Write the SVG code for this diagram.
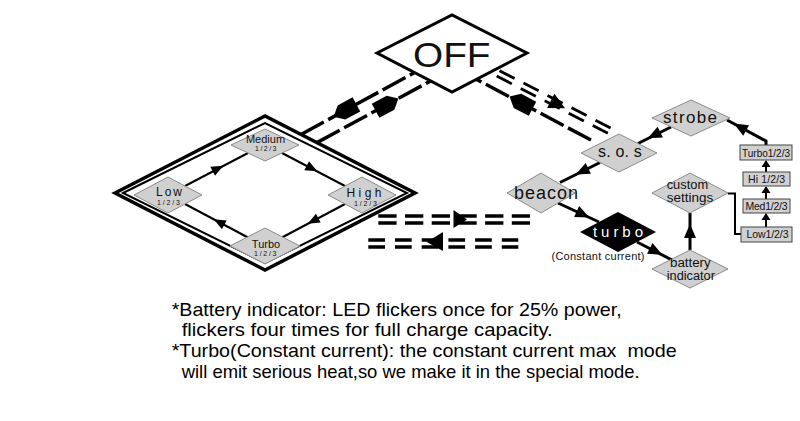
<svg xmlns="http://www.w3.org/2000/svg" xmlns:xlink="http://www.w3.org/1999/xlink" width="800" height="421" viewBox="0 0 800 421">
<style>
  .gd { fill:#d0d0d0; stroke:#8a8a8a; stroke-width:1; }
  .box { fill:#d0d0d0; stroke:#444; stroke-width:1; }
  .t { font-family:"Liberation Sans", Arial, sans-serif; fill:#111; }
  .ln { fill:none; stroke:#000; stroke-width:3; }
  .thin { fill:none; stroke:#000; stroke-width:2; }
  .dash { fill:none; stroke:#000; stroke-width:3.5; stroke-dasharray:26 5; }
  .dd { fill:none; stroke:#000; stroke-width:2.8; stroke-dasharray:17 10; }
  .note { font-family:"Liberation Sans", Arial, sans-serif; font-size:18.5px; fill:#000; }
</style>
<defs>
  <path id="ah" d="M7,0 L-7,-6 L-7,6 Z" fill="#000"/>
  <path id="ahs" d="M6,0 L-6,-5 L-6,5 Z" fill="#000"/>
  <path id="ahb" d="M9,0 L-7,-8 L-7,8 Z" fill="#000"/>
  <path id="pent" d="M-13,-8 L4,-8 L13,0 L4,8 L-13,8 Z" fill="#000"/>
</defs>
<rect width="800" height="421" fill="#fff"/>

<g id="connectors">
  <!-- OFF to mode group -->
  <path class="dash" d="M301,134.5 L414.6,72.5"/>
  <path class="dash" d="M316.9,142.6 L430.7,80.9"/>
  <use href="#pent" transform="translate(345,110.6) rotate(151.4)"/>
  <use href="#pent" transform="translate(387,104.6) rotate(-28.5)"/>
  <!-- OFF to special modes -->
  <path class="dash" d="M591,140 L476.6,79.4"/>
  <use href="#pent" transform="translate(521,102.7) rotate(-152.1)"/>
  <path class="dd" d="M499.5,70.7 L610.7,128"/>
  <path class="dd" d="M496.7,76.1 L607.9,133.3"/>
  <use href="#ahb" transform="translate(557,104) rotate(27.3)"/>
  <!-- middle double dashes -->
  <path d="M378.3,216 H530 M378.3,223 H530" fill="none" stroke="#000" stroke-width="3.3" stroke-dasharray="18.3 8.4"/>
  <path d="M453.5,210 L467,219.5 L453.5,228 Z" fill="#000"/>
  <path d="M368.3,240 H518.3 M368.3,247 H518.3" fill="none" stroke="#000" stroke-width="3.3" stroke-dasharray="16.7 10"/>
  <path d="M443,232 L426.7,242 L443,251 Z" fill="#000"/>
  <!-- inner mode cycle -->
  <path class="thin" d="M185,186 L248,153"/>
  <path class="thin" d="M282,153 L345,186"/>
  <path class="thin" d="M345,204 L282,237.5"/>
  <path class="thin" d="M248,237.5 L185,204"/>
  <use href="#ahs" transform="translate(218,168.5) rotate(-27.6)"/>
  <use href="#ahs" transform="translate(312,168.5) rotate(27.6)"/>
  <use href="#ahs" transform="translate(313,221) rotate(152)"/>
  <use href="#ahs" transform="translate(219,222) rotate(-152)"/>
  <!-- special mode chain -->
  <path class="ln" d="M671,127 L638,143.5"/>
  <use href="#ah" transform="translate(654,135.2) rotate(153.4)"/>
  <path class="ln" d="M600,162.5 L560,182.5"/>
  <use href="#ah" transform="translate(582,171.5) rotate(154)"/>
  <path class="ln" d="M558,203 L599,222"/>
  <use href="#ah" transform="translate(583,214.5) rotate(24.9)"/>
  <path class="ln" d="M637,242 L671,259.5"/>
  <use href="#ah" transform="translate(656,251.5) rotate(27.2)"/>
  <path class="ln" d="M690,250 L690,213"/>
  <use href="#ah" transform="translate(690,231) rotate(-90)"/>
  <path class="ln" d="M766,145 L766,141 L727,120"/>
  <use href="#ah" transform="translate(740,127) rotate(-151)"/>
  <path class="thin" d="M728,193.5 L735,193.5 L735,234 L741,234"/>
  <path class="thin" d="M766,227 V214 M766,199 V187 M766,172 V161"/>
  <path d="M766,213 L761.5,220 L770.5,220 Z M766,186 L761.5,193 L770.5,193 Z M766,160 L761.5,167 L770.5,167 Z" fill="#000"/>
</g>

<g id="node-off">
  <path d="M377,53 L452,15 L527,53 L452,92 Z" fill="#fff" stroke="#000" stroke-width="3"/>
  <text class="t" x="413" y="66.7" font-size="35" textLength="77.5" lengthAdjust="spacingAndGlyphs" fill="#000">OFF</text>
</g>

<g id="node-mode-group">
  <path d="M115,193 L265,116 L415,193 L265,270 Z" fill="none" stroke="#000" stroke-width="3.5"/>
  <path d="M123,193 L265,123 L407,193 L265,263 Z" fill="none" stroke="#000" stroke-width="2"/>
</g>

<g id="node-medium">
  <path class="gd" d="M231,145 L265,129 L299,145 L265,161 Z"/>
  <text class="t" x="265.5" y="143" font-size="11" text-anchor="middle">Medium</text>
  <text class="t" x="255" y="151" font-size="7" textLength="21.5" lengthAdjust="spacing">1/2/3</text>
</g>
<g id="node-low">
  <path class="gd" d="M134,195 L168,177 L202,195 L168,213 Z"/>
  <text class="t" x="156" y="196" font-size="12" textLength="26" lengthAdjust="spacing">Low</text>
  <text class="t" x="157" y="204.5" font-size="7" textLength="23" lengthAdjust="spacing">1/2/3</text>
</g>
<g id="node-high">
  <path class="gd" d="M328,195 L362,177 L396,195 L362,213 Z"/>
  <text class="t" x="346.5" y="196.5" font-size="12" textLength="35" lengthAdjust="spacing">High</text>
  <text class="t" x="354" y="205.5" font-size="7" textLength="23" lengthAdjust="spacing">1/2/3</text>
</g>
<g id="node-turbo">
  <path class="gd" d="M230,246 L265,228 L300,246 L265,264 Z"/>
  <text class="t" x="266" y="248" font-size="11" text-anchor="middle">Turbo</text>
  <text class="t" x="254" y="256" font-size="7" textLength="22.5" lengthAdjust="spacing">1/2/3</text>
</g>

<g id="node-strobe">
  <path class="gd" d="M652,118 L691,100 L730,118 L691,136 Z"/>
  <text class="t" x="663" y="123.3" font-size="17" textLength="54" lengthAdjust="spacing">strobe</text>
</g>
<g id="node-sos">
  <path class="gd" d="M581,153 L619,134 L657,153 L619,172 Z"/>
  <text class="t" x="598" y="157" font-size="16" textLength="43.7" lengthAdjust="spacing">s. o. s</text>
</g>
<g id="node-beacon">
  <path class="gd" d="M507,193 L541,173 L575,193 L541,213 Z"/>
  <text class="t" x="514" y="199" font-size="18" textLength="64" lengthAdjust="spacing">beacon</text>
</g>
<g id="node-turbo-special">
  <path d="M580,232 L618,212 L656,232 L618,252 Z" fill="#000"/>
  <text class="t" x="593" y="236.5" font-size="15" textLength="50" lengthAdjust="spacing" style="fill:#fff">turbo</text>
  <text class="t" x="551.5" y="260" font-size="11" textLength="93" lengthAdjust="spacing">(Constant current)</text>
</g>
<g id="node-battery">
  <path class="gd" d="M652,269 L690,250 L728,269 L690,288 Z"/>
  <text class="t" x="670" y="267" font-size="12" textLength="40.7" lengthAdjust="spacingAndGlyphs">battery</text>
  <text class="t" x="666.7" y="279.5" font-size="12" textLength="48.3" lengthAdjust="spacingAndGlyphs">indicator</text>
</g>
<g id="node-custom">
  <path class="gd" d="M652,193 L690,173 L728,193 L690,213 Z"/>
  <text class="t" x="666.7" y="189" font-size="12.5" textLength="41.5" lengthAdjust="spacingAndGlyphs">custom</text>
  <text class="t" x="666.7" y="201.5" font-size="12.5" textLength="46.5" lengthAdjust="spacingAndGlyphs">settings</text>
</g>

<g id="node-box-turbo">
  <rect class="box" x="740" y="145" width="52" height="15"/>
  <text class="t" x="742" y="156.5" font-size="10" textLength="48" lengthAdjust="spacing">Turbo1/2/3</text>
</g>
<g id="node-box-hi">
  <rect class="box" x="743" y="172" width="47" height="14"/>
  <text class="t" x="748" y="183" font-size="10.5" textLength="37" lengthAdjust="spacing">Hi 1/2/3</text>
</g>
<g id="node-box-med">
  <rect class="box" x="743" y="199" width="47" height="14"/>
  <text class="t" x="745.5" y="210" font-size="10.5" textLength="42" lengthAdjust="spacing">Med1/2/3</text>
</g>
<g id="node-box-low">
  <rect class="box" x="741" y="227" width="51" height="15"/>
  <text class="t" x="746.5" y="238.3" font-size="10.5" textLength="42" lengthAdjust="spacing">Low1/2/3</text>
</g>

<g id="notes">
  <text class="note" x="171.7" y="316" textLength="450" lengthAdjust="spacingAndGlyphs">*Battery indicator: LED flickers once for 25% power,</text>
  <text class="note" x="181.7" y="336" textLength="371" lengthAdjust="spacingAndGlyphs">flickers four times for full charge capacity.</text>
  <text class="note" x="171.7" y="357" textLength="505" lengthAdjust="spacingAndGlyphs" xml:space="preserve">*Turbo(Constant current): the constant current max  mode</text>
  <text class="note" x="181.7" y="377.5" textLength="458" lengthAdjust="spacingAndGlyphs">will emit serious heat,so we make it in the special mode.</text>
</g>
</svg>
